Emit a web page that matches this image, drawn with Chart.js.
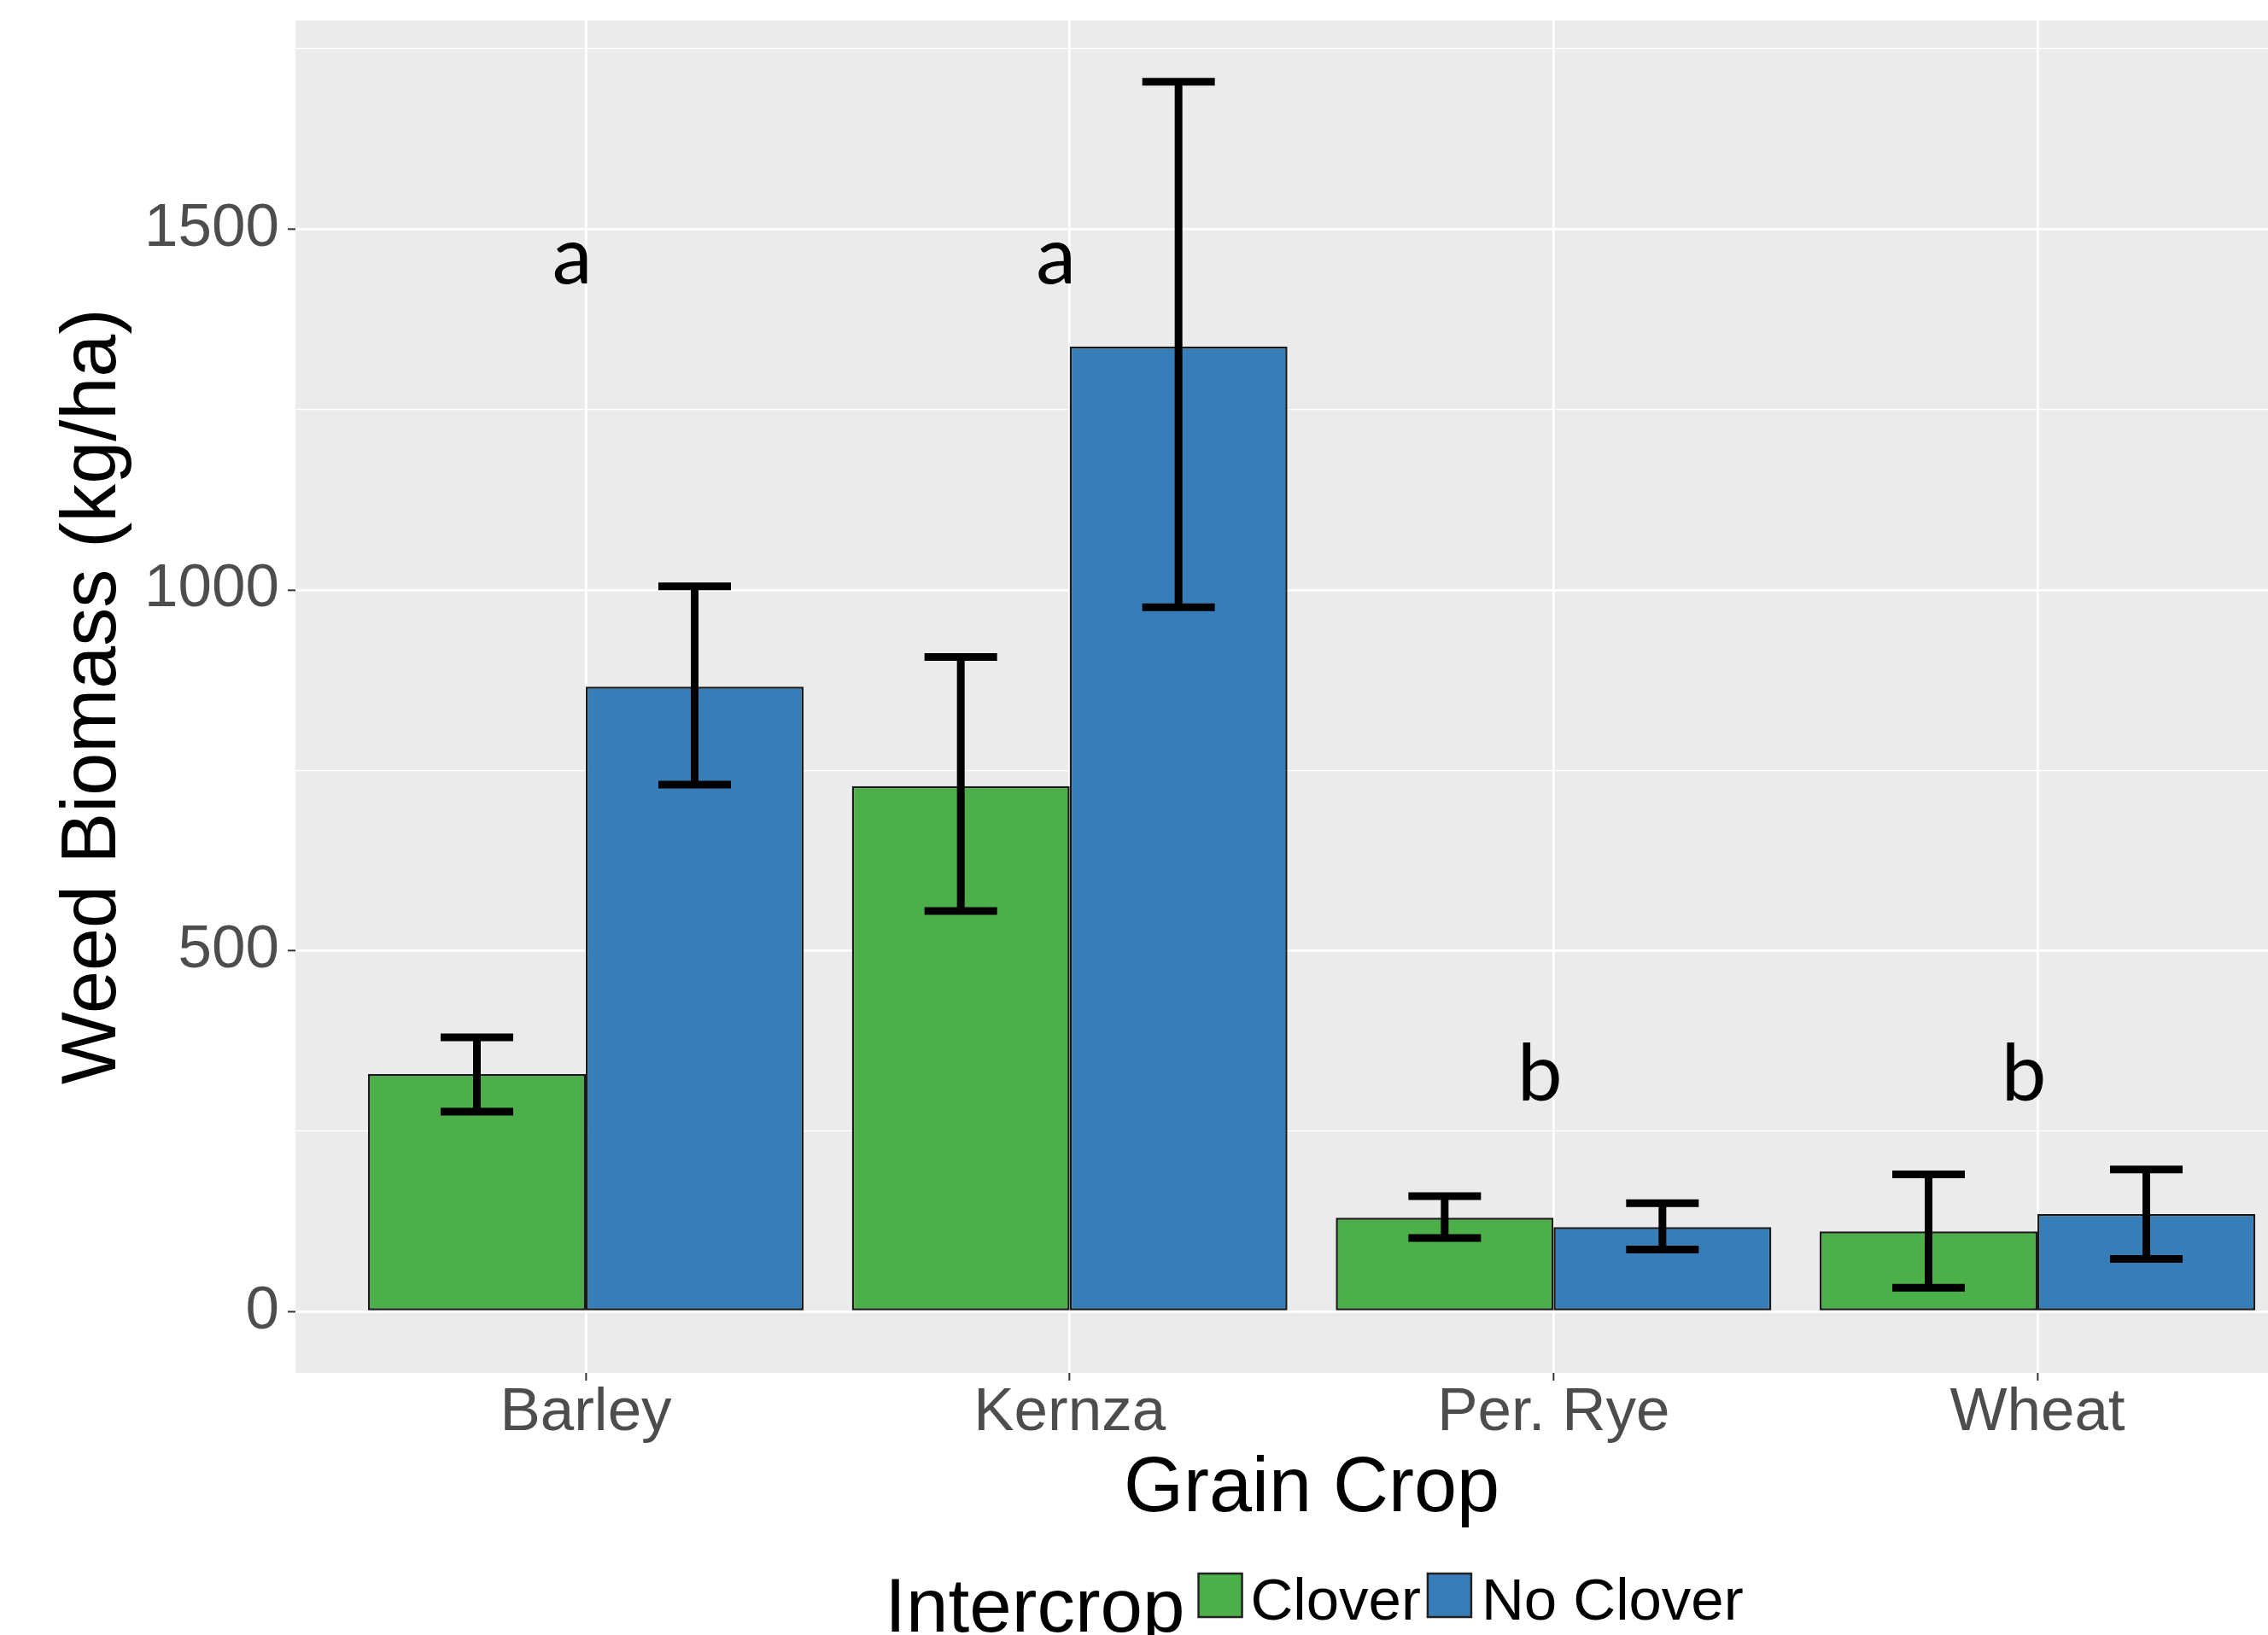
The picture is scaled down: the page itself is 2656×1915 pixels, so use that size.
<!DOCTYPE html>
<html>
<head>
<meta charset="utf-8">
<script src="https://cdn.jsdelivr.net/npm/chart.js@4.4.1/dist/chart.umd.min.js"></script>
<style>
  html, body { margin: 0; padding: 0; background: #fff; overflow: hidden; }
  #chart { display: block; }
</style>
</head>
<body>
<canvas id="chart" width="2745" height="1915"></canvas>
<script>
// values (kg/ha)
const crops = ['Barley', 'Kernza', 'Per. Rye', 'Wheat'];
const clover = [329, 728, 130, 111];
const cloverLo = [277, 555, 102, 33];
const cloverHi = [380, 907, 160, 190];
const noClover = [866, 1337, 117, 135];
const noCloverLo = [730, 976, 86, 73];
const noCloverHi = [1005, 1704, 150, 197];
const groupLetters = ['a', 'a', 'b', 'b'];
const letterY = [1425, 1425, 292, 292];
const yTicks = [0, 500, 1000, 1500];
const yMinor = [250, 750, 1250, 1750];

Chart.defaults.font.family = "'Liberation Sans', Arial, sans-serif";

const panelBg = {
    id: 'panelBg',
    beforeDraw(chart) {
        const { ctx, chartArea: a } = chart;
        ctx.save();
        ctx.fillStyle = '#ffffff';
        ctx.fillRect(0, 0, chart.width, chart.height);
        ctx.fillStyle = '#EBEBEB';
        ctx.fillRect(a.left, a.top, a.right - a.left, a.bottom - a.top);
        ctx.restore();
    }
};

const errorBars = {
    id: 'errorBars',
    afterDatasetsDraw(chart) {
        const { ctx, scales: { x, y } } = chart;
        ctx.save();
        ctx.strokeStyle = '#000';
        ctx.lineWidth = 9;
        ctx.lineCap = 'butt';
        chart.data.datasets.forEach((ds, d) => {
            chart.getDatasetMeta(d).data.forEach((bar, i) => {
                const top = y.getPixelForValue(ds.errHi[i]);
                const bot = y.getPixelForValue(ds.errLo[i]);
                const half = bar.width / 6;
                ctx.beginPath();
                ctx.moveTo(bar.x, top); ctx.lineTo(bar.x, bot);
                ctx.moveTo(bar.x - half, top); ctx.lineTo(bar.x + half, top);
                ctx.moveTo(bar.x - half, bot); ctx.lineTo(bar.x + half, bot);
                ctx.stroke();
            });
        });
        // significance letters
        ctx.fillStyle = '#000';
        ctx.font = '94px Lato';
        ctx.textAlign = 'center';
        ctx.textBaseline = 'alphabetic';
        groupLetters.forEach((t, i) => {
            ctx.fillText(t, x.getPixelForValue(i) - 16, y.getPixelForValue(letterY[i]));
        });
        ctx.restore();
    }
};

const sideLegend = {
    id: 'sideLegend',
    afterDraw(chart) {
        const { ctx, chartArea: a } = chart;
        const cx = (a.left + a.right) / 2;
        const H = chart.height;
        const titleFont = "89px 'Liberation Sans', Arial, sans-serif";
        const labelFont = "69px 'Liberation Sans', Arial, sans-serif";
        const key = 51;
        ctx.save();
        ctx.font = titleFont;
        const tw = ctx.measureText('Intercrop').width;
        ctx.font = labelFont;
        const items = chart.data.datasets.map(ds => ({ label: ds.label, color: ds.backgroundColor, w: ctx.measureText(ds.label).width }));
        const gaps = [16, 10, 8, 12];
        let total = tw + gaps[0] + key + gaps[1] + items[0].w + gaps[2] + key + gaps[3] + items[1].w;
        let xPos = cx - total / 2 + 3;
        ctx.fillStyle = '#000';
        ctx.font = titleFont;
        ctx.textBaseline = 'alphabetic';
        ctx.textAlign = 'left';
        ctx.fillText('Intercrop', xPos, H - 4);
        xPos += tw + gaps[0];
        items.forEach((it, k) => {
            ctx.fillStyle = it.color;
            ctx.fillRect(xPos, H - 72, key, key);
            ctx.strokeStyle = '#222';
            ctx.lineWidth = 2.5;
            ctx.strokeRect(xPos, H - 72, key, key);
            xPos += key + gaps[1 + 2 * k];
            ctx.fillStyle = '#000';
            ctx.font = labelFont;
            ctx.fillText(it.label, xPos, H - 18);
            xPos += it.w + (k === 0 ? gaps[2] : 0);
        });
        ctx.restore();
    }
};

const ctx = document.getElementById('chart').getContext('2d');
const chart = new Chart(ctx, {
    type: 'bar',
    data: {
        datasets: [
            {
                label: 'Clover',
                data: clover.map((v, i) => ({ x: i, y: v })),
                errLo: cloverLo,
                errHi: cloverHi,
                backgroundColor: '#4DAF4A',
                borderColor: '#1a1a1a',
                borderWidth: 2.5,
                borderSkipped: false,
                categoryPercentage: 0.9,
                barPercentage: 1.0
            },
            {
                label: 'No Clover',
                data: noClover.map((v, i) => ({ x: i, y: v })),
                errLo: noCloverLo,
                errHi: noCloverHi,
                backgroundColor: '#377EB8',
                borderColor: '#1a1a1a',
                borderWidth: 2.5,
                borderSkipped: false,
                categoryPercentage: 0.9,
                barPercentage: 1.0
            }
        ]
    },
    options: {
        responsive: false,
        devicePixelRatio: 1,
        animation: false,
        layout: { padding: { top: 24, right: 19, left: 0, bottom: 0 } },
        plugins: {
            legend: { display: false },
            tooltip: { enabled: false },
            title: { display: false }
        },
        scales: {
            x: {
                type: 'linear',
                min: -0.6,
                max: 3.6,
                offset: false,
                afterBuildTicks: (scale) => { scale.ticks = crops.map((c, i) => ({ value: i })); },
                afterFit: (scale) => {
                    scale.height = 307;
                    scale.paddingLeft = 0;
                    scale.paddingRight = 0;
                },
                border: { display: false },
                grid: { offset: false, color: '#ffffff', lineWidth: 2.7, tickLength: 9, tickColor: '#333333', tickWidth: 2 },
                ticks: {
                    autoSkip: false,
                    maxRotation: 0,
                    padding: 3,
                    color: '#4D4D4D',
                    font: { size: 71, lineHeight: 1 },
                    callback: (v) => crops[v]
                },
                title: {
                    display: true,
                    text: 'Grain Crop',
                    color: '#000',
                    font: { size: 90 },
                    padding: { top: 0, bottom: 116 }
                }
            },
            y: {
                min: -85,
                max: 1789,
                afterBuildTicks: (scale) => {
                    scale.ticks = [...yTicks, ...yMinor].sort((p, q) => p - q).map(v => ({ value: v }));
                },
                afterFit: (scale) => {
                    scale.width = 346;
                    scale.paddingTop = 0;
                    scale.paddingBottom = 0;
                },
                border: { display: false },
                grid: {
                    color: '#ffffff',
                    lineWidth: (c) => (c.tick && yTicks.includes(c.tick.value)) ? 2.7 : 1.3,
                    tickLength: 9,
                    tickWidth: 2,
                    tickColor: (c) => (c.tick && yTicks.includes(c.tick.value)) ? '#333333' : 'rgba(0,0,0,0)'
                },
                ticks: {
                    padding: 10,
                    color: '#4D4D4D',
                    font: { size: 71 },
                    callback: (v) => yTicks.includes(v) ? String(v) : ''
                },
                title: {
                    display: true,
                    text: 'Weed Biomass (kg/ha)',
                    color: '#000',
                    font: { size: 90 },
                    padding: { top: 56, bottom: 0 }
                }
            }
        }
    },
    plugins: [panelBg, errorBars, sideLegend]
});
</script>
</body>
</html>
